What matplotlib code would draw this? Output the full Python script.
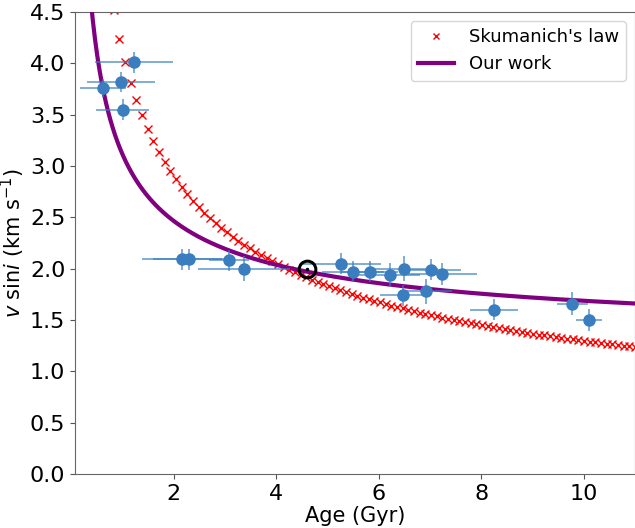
import numpy as np
import matplotlib
matplotlib.use("Agg")
import matplotlib.pyplot as plt

# Observed stars: age (Gyr), vsini (km/s) and errors
age = [1.22, 0.97, 0.62, 1.00, 2.16, 2.29, 3.08, 3.37, 5.27, 5.50, 5.82, 6.21,
       6.50, 7.01, 7.24, 6.47, 6.92, 8.24, 9.78, 10.10]
age_err = [0.76, 0.66, 0.45, 0.52, 0.78, 0.70, 0.39, 0.90, 0.78, 0.60, 0.55, 0.60,
           0.65, 0.60, 0.68, 0.45, 0.50, 0.47, 0.31, 0.26]
vsini = [4.01, 3.82, 3.76, 3.55, 2.09, 2.09, 2.08, 2.00, 2.05, 1.97, 1.97, 1.94,
         2.00, 1.99, 1.95, 1.74, 1.78, 1.60, 1.66, 1.50]
vsini_err = [0.10, 0.10, 0.09, 0.10, 0.10, 0.10, 0.10, 0.12, 0.10, 0.10, 0.10, 0.12,
             0.12, 0.10, 0.11, 0.10, 0.12, 0.10, 0.11, 0.11]

# Sun
sun_age = [4.6]
sun_vsini = [2.0]

# Model parameters
skumanich_const = 4.1          # v = C * t^-0.5
our_c, our_a, our_n = 1.21, 1.9, 0.6   # v = c + a * t^-n
skum_age = np.linspace(0.05, 11.0, 100)
our_age = np.linspace(0.2, 11.0, 500)

fig = plt.figure(figsize=(6.35, 5.28), dpi=100)
ax = fig.add_axes([75/635, 54/528, 560/635, 462/528])

ax.plot(skum_age, skumanich_const / np.sqrt(skum_age), 'x', color='red',
        markersize=5.5, markeredgewidth=1.0, label="Skumanich's law", zorder=2)
ax.plot(our_age, our_c + our_a * our_age**(-our_n), color='purple', lw=3,
        label='Our work', zorder=3)

blue = '#3a7ebf'
ax.errorbar(age, vsini, xerr=age_err, yerr=vsini_err, fmt='none',
            ecolor=blue, alpha=0.75, elinewidth=1.2, zorder=4)
ax.plot(age, vsini, 'o', color=blue, markersize=8, zorder=5)

ax.plot(sun_age, sun_vsini, 'o', markerfacecolor='none', markeredgecolor='black',
        markersize=12, markeredgewidth=2.2, zorder=6)
ax.plot(sun_age, sun_vsini, '.', color='black', markersize=3, zorder=6)

ax.set_xlim(0.07, 11.0)
ax.set_ylim(0, 4.5)
ax.set_xticks([2, 4, 6, 8, 10])
ax.set_yticks(np.arange(0, 4.51, 0.5))
ax.tick_params(labelsize=16, colors='#555555', labelcolor='black')
for s in ax.spines.values():
    s.set_color('#666666')
ax.set_xlabel('Age (Gyr)', fontsize=15, labelpad=2)
ax.set_ylabel(r'$v$ sin$i$ (km s$^{-1}$)', fontsize=15, labelpad=2)

ax.legend(loc='upper right', fontsize=13, markerscale=0.8)

fig.savefig('out.png', dpi=100)
